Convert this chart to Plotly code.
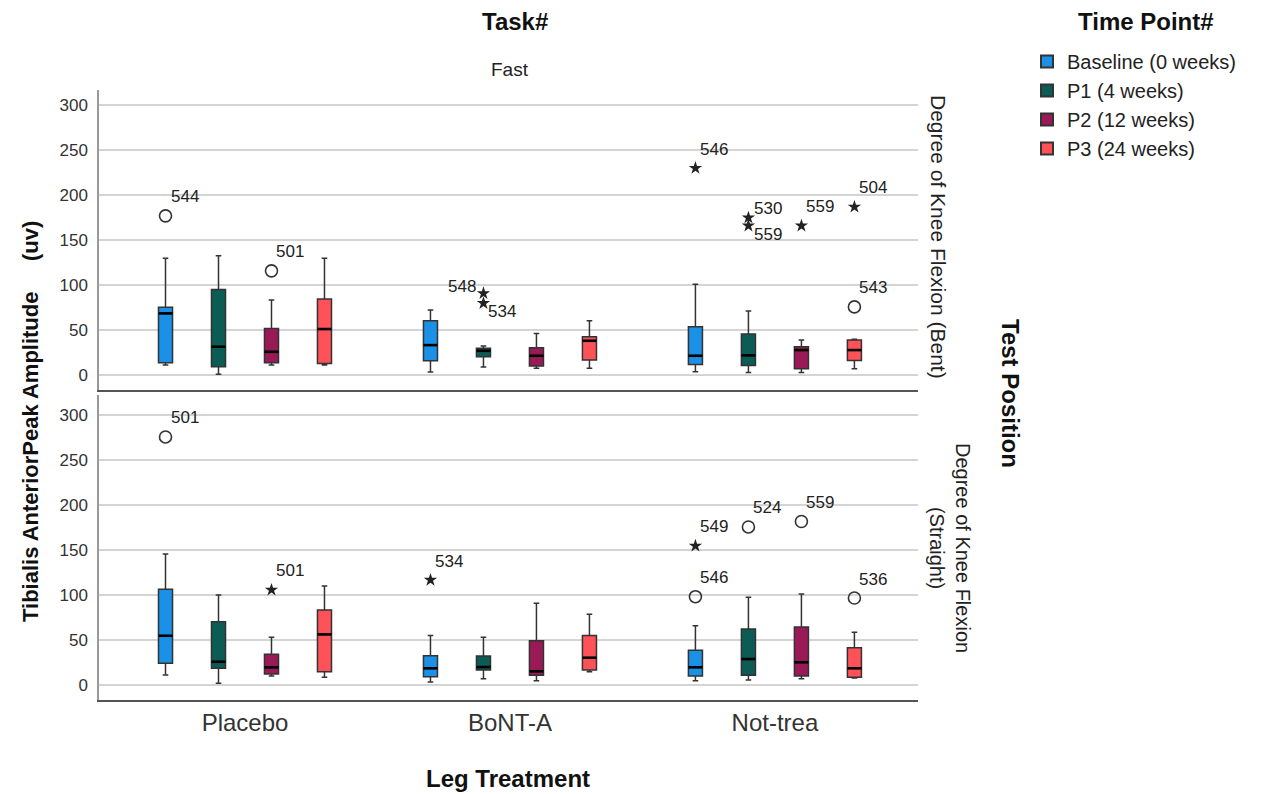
import plotly.graph_objects as go

# ---------------- data ----------------
treatments = ["Placebo", "BoNT-A", "Not-trea"]
time_points = ["Baseline (0 weeks)", "P1 (4 weeks)", "P2 (12 weeks)", "P3 (24 weeks)"]
positions_label = ["Degree of Knee Flexion (Bent)", "Degree of Knee Flexion<br>(Straight)"]
y_ticks = [0, 50, 100, 150, 200, 250, 300]

# Bent (top panel): per time point, values for [Placebo, BoNT-A, Not-trea]
bent_low = [[11.4, 3.7, 4.0], [1.4, 9.2, 3.3], [11.4, 7.8, 3.3], [11.4, 7.8, 7.3]]
bent_q1 = [[14.0, 16.2, 12.2], [9.6, 20.6, 11.1], [14.0, 10.3, 7.3], [13.3, 17.0, 16.6]]
bent_med = [[68.8, 33.6, 21.8], [31.8, 27.3, 22.2], [26.2, 21.8, 28.1], [51.4, 38.4, 28.1]]
bent_q3 = [[75.5, 60.6, 54.0], [95.4, 30.0, 45.8], [52.1, 30.6, 31.7], [84.7, 42.8, 39.2]]
bent_high = [[130.0, 72.5, 101.0], [132.7, 32.5, 71.4], [83.6, 46.6, 39.2], [130.0, 60.6, 40.0]]

# Straight (bottom panel)
straight_low = [[11.4, 3.7, 5.1], [2.2, 7.3, 5.9], [10.3, 5.1, 7.3], [8.9, 15.1, 8.1]]
straight_q1 = [[24.4, 9.6, 10.3], [18.9, 17.0, 11.1], [12.6, 11.1, 10.3], [15.1, 17.0, 8.9]]
straight_med = [[55.1, 18.9, 20.0], [26.2, 20.3, 29.2], [20.0, 15.6, 25.6], [56.6, 30.7, 18.9]]
straight_q3 = [[106.7, 32.9, 38.9], [70.7, 32.6, 62.6], [34.4, 49.6, 64.8], [83.7, 55.5, 41.8]]
straight_high = [[145.9, 55.5, 66.2], [100.3, 53.3, 97.8], [53.3, 91.1, 101.4], [110.3, 78.9, 58.9]]

# Outliers: panel (0 bent, 1 straight), treatment idx, time idx, value, case id, kind
out_panel = [0, 0, 0, 0, 0, 0, 0, 0, 0, 0, 1, 1, 1, 1, 1, 1, 1, 1]
out_treat = [0, 0, 1, 1, 2, 2, 2, 2, 2, 2, 0, 0, 1, 2, 2, 2, 2, 2]
out_time = [0, 2, 1, 1, 0, 1, 1, 2, 3, 3, 0, 2, 0, 0, 0, 1, 2, 3]
out_value = [177, 116, 91, 80, 230, 175, 166, 166, 187, 76, 276, 106, 117, 155, 98.5, 176, 182, 97]
out_id = ["544", "501", "548", "534", "546", "530", "559", "559", "504", "543",
          "501", "501", "534", "549", "546", "524", "559", "536"]
out_kind = ["o", "o", "*", "*", "*", "*", "*", "*", "*", "o",
            "o", "*", "*", "*", "o", "o", "o", "o"]

# ---------------- styles ----------------
colors = ["#1a90e6", "#0b5c55", "#991a56", "#ff5258"]
offsets = [-0.3, -0.1, 0.1, 0.3]
box_w = 0.053
FONT = "Liberation Sans, Arial, sans-serif"
# label placement (xanchor, xshift, yshift) per outlier label
label_style = [("left", 3, 19)] * len(out_id)
label_style = list(label_style)
label_style[2] = ("right", -5, 7)
label_style[3] = ("left", 3, -8)
label_style[5] = ("left", 4, 9)
label_style[6] = ("left", 4, -9)

panels = [
    (bent_low, bent_q1, bent_med, bent_q3, bent_high),
    (straight_low, straight_q1, straight_med, straight_q3, straight_high),
]

fig = go.Figure()

for p, (lo, q1, med, q3, hi) in enumerate(panels):
    xa = "x" if p == 0 else "x2"
    ya = "y" if p == 0 else "y2"
    for t in range(4):
        xs = [g + offsets[t] for g in range(len(treatments))]
        fig.add_trace(go.Box(
            x=xs, q1=q1[t], median=med[t], q3=q3[t],
            lowerfence=lo[t], upperfence=hi[t],
            width=box_w, whiskerwidth=0.4,
            fillcolor=colors[t], line=dict(color="#333333", width=1.5),
            boxpoints=False, showlegend=False, name=time_points[t],
            xaxis=xa, yaxis=ya, hoverinfo="skip",
        ))
        # emphasised median line
        mx, my = [], []
        for g in range(len(treatments)):
            c = g + offsets[t]
            mx += [c - box_w / 2, c + box_w / 2, None]
            my += [med[t][g], med[t][g], None]
        fig.add_trace(go.Scatter(x=mx, y=my, mode="lines",
                                 line=dict(color="black", width=2.6),
                                 showlegend=False, hoverinfo="skip",
                                 xaxis=xa, yaxis=ya))

# outliers
for i in range(len(out_value)):
    p = out_panel[i]
    xa = "x" if p == 0 else "x2"
    ya = "y" if p == 0 else "y2"
    xv = out_treat[i] + offsets[out_time[i]]
    if out_kind[i] == "o":
        mk = dict(symbol="circle-open", size=12, color="#333", line=dict(width=1.6, color="#333"))
    else:
        mk = dict(symbol="star", size=10, color="#222", line=dict(width=0))
    fig.add_trace(go.Scatter(x=[xv], y=[out_value[i]], mode="markers", marker=mk,
                             showlegend=False, hoverinfo="skip", xaxis=xa, yaxis=ya))
    xanc, xs_, ys_ = label_style[i]
    fig.add_annotation(x=xv, y=out_value[i], xref=xa, yref=ya, text=out_id[i],
                       showarrow=False, xanchor=xanc, yanchor="middle",
                       xshift=xs_, yshift=ys_, font=dict(family=FONT, size=17, color="#222"))

# legend traces
for t in range(4):
    fig.add_trace(go.Scatter(x=[None], y=[None], mode="markers", name=time_points[t],
                             marker=dict(symbol="square", size=19, color=colors[t],
                                         line=dict(color="#333", width=1.3)),
                             showlegend=True))

W, H = 1261, 794
def px_x(v):
    return v / W
def px_y(v):
    return 1 - v / H

x_range = [-0.551, 2.54]
axis_common = dict(showgrid=False, zeroline=False, range=x_range,
                   tickvals=list(range(len(treatments))), ticktext=treatments,
                   ticks="", domain=[px_x(99), px_x(918)])

fig.update_layout(
    width=W, height=H,
    margin=dict(l=0, r=0, t=0, b=0),
    paper_bgcolor="white", plot_bgcolor="white",
    font=dict(family=FONT, color="#222"),
    boxmode="overlay",
    xaxis=dict(**axis_common, anchor="y", showticklabels=False,
               showline=True, linecolor="#555", linewidth=1.5),
    xaxis2=dict(**axis_common, anchor="y2", showticklabels=True, matches="x",
                showline=True, linecolor="#555", linewidth=1.5,
                tickfont=dict(family=FONT, size=24, color="#333")),
    yaxis=dict(domain=[px_y(390), px_y(90)], range=[-16.2, 316.6],
               tickvals=y_ticks, ticks="", showgrid=True, gridcolor="#d4d4d4", gridwidth=2,
               zeroline=False, showline=True, linecolor="#999", linewidth=1.5,
               tickfont=dict(family=FONT, size=17, color="#333"), ticklabelstandoff=6),
    yaxis2=dict(domain=[px_y(700), px_y(395)], range=[-16.3, 322.6],
                tickvals=y_ticks, ticks="", showgrid=True, gridcolor="#d4d4d4", gridwidth=2,
                zeroline=False, showline=True, linecolor="#999", linewidth=1.5,
                tickfont=dict(family=FONT, size=17, color="#333"), ticklabelstandoff=6),
    legend=dict(x=px_x(1027), y=px_y(42), xanchor="left", yanchor="top",
                font=dict(family=FONT, size=20, color="#222"),
                itemsizing="constant", tracegroupgap=0, bgcolor="rgba(0,0,0,0)"),
    showlegend=True,
)

def ann(text, x, y, size, bold=False, angle=0, color="#111"):
    fig.add_annotation(text=("<b>%s</b>" % text) if bold else text,
                       x=px_x(x), y=px_y(y), xref="paper", yref="paper",
                       showarrow=False, xanchor="center", yanchor="middle",
                       textangle=angle, font=dict(family=FONT, size=size, color=color))

ann("Task#", 515, 22, 24, bold=True)
ann("Fast", 510, 70, 19, color="#222")
ann("Leg Treatment", 508, 778, 24, bold=True)
ann("Time Point#", 1146, 22, 24, bold=True)
ann("Tibialis AnteriorPeak Amplitude\u00a0\u00a0\u00a0\u00a0\u00a0(uv)", 30, 422, 22, bold=True, angle=-90)
ann(positions_label[0], 939, 237, 21, angle=90, color="#222")
ann(positions_label[1], 950, 548, 20, angle=90, color="#222")
ann("Test Position", 1011, 393, 24, bold=True, angle=90)

fig.write_html("out.html")
